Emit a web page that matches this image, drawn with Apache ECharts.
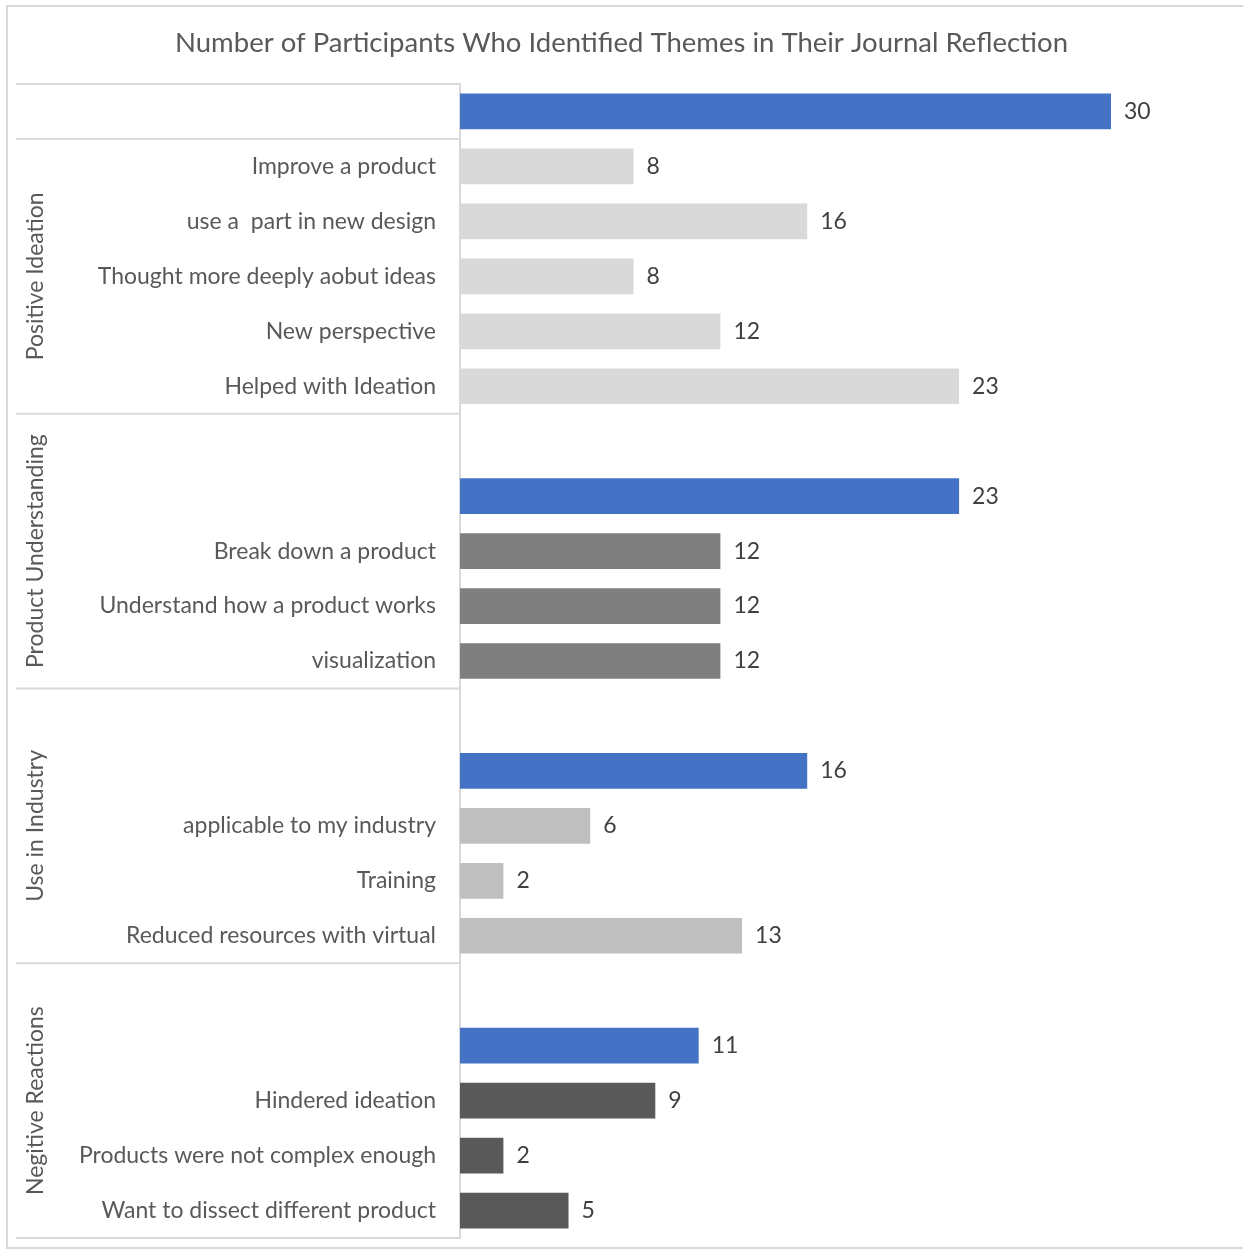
<!DOCTYPE html>
<html>
<head>
<meta charset="utf-8">
<script src="https://cdn.jsdelivr.net/npm/echarts@6/dist/echarts.min.js"></script>
<style>
  html, body { margin: 0; padding: 0; background: #fff; }
  #main { width: 1243px; height: 1251px; }
</style>
</head>
<body>
<div id="main"></div>
<script>
// rows, top to bottom ('' = group total row / spacer)
var categories = [
  '',
  'Improve a product', 'use a  part in new design', 'Thought more deeply aobut ideas', 'New perspective', 'Helped with Ideation',
  '', '', 'Break down a product', 'Understand how a product works', 'visualization',
  '', '', 'applicable to my industry', 'Training', 'Reduced resources with virtual',
  '', '', 'Hindered ideation', 'Products were not complex enough', 'Want to dissect different product'
];
var values = [
  30,
  8, 16, 8, 12, 23,
  null, 23, 12, 12, 12,
  null, 16, 6, 2, 13,
  null, 11, 9, 2, 5
];
var groupNames = ['', 'Positive Ideation', 'Product Understanding', 'Use in Industry', 'Negitive Reactions'];
var groupOfRow = [0, 1,1,1,1,1, 2,2,2,2,2, 3,3,3,3,3, 4,4,4,4,4];

var groupColors = ['#4472C4', '#D9D9D9', '#7F7F7F', '#BFBFBF', '#595959'];
var totalColor = '#4472C4';
var font = 'Lato, "Open Sans", sans-serif';

var chart = echarts.init(document.getElementById('main'));

var barData = values.map(function (v, i) {
  var isTotal = categories[i] === '';
  return {
    value: v,
    itemStyle: { color: isTotal ? totalColor : groupColors[groupOfRow[i]] }
  };
});

chart.setOption({
  animation: false,
  title: {
    text: 'Number of Participants Who Identified Themes in Their Journal Reflection',
    left: 'center',
    top: 24,
    textStyle: { fontFamily: font, fontSize: 27.5, fontWeight: 'normal', color: '#595959' }
  },
  grid: { left: 460, right: 132, top: 84, bottom: 13 },
  xAxis: {
    type: 'value',
    min: 0,
    max: 30,
    show: false
  },
  yAxis: {
    type: 'category',
    inverse: true,
    data: categories,
    axisLine: { lineStyle: { color: '#D9D9D9', width: 2 } },
    axisTick: { show: false },
    axisLabel: { fontFamily: font, fontSize: 23, color: '#595959', margin: 24, interval: 0 }
  },
  series: [{
    type: 'bar',
    data: barData,
    barWidth: '65%',
    label: {
      show: true,
      position: 'right',
      distance: 13,
      fontFamily: font,
      fontSize: 23,
      color: '#404040'
    }
  }]
});

// group separators and rotated group names, placed from the category scale
var band = chart.convertToPixel({ yAxisIndex: 0 }, 1) - chart.convertToPixel({ yAxisIndex: 0 }, 0);
var axisX = chart.convertToPixel({ xAxisIndex: 0 }, 0);
var graphics = [{
  type: 'rect',
  shape: { x: 7, y: 6, width: 1240, height: 1242 },
  style: { fill: null, stroke: '#D9D9D9', lineWidth: 2 },
  silent: true
}];
var start = 0;
for (var i = 0; i <= groupOfRow.length; i++) {
  if (i === groupOfRow.length || groupOfRow[i] !== groupOfRow[start]) {
    var yTop = chart.convertToPixel({ yAxisIndex: 0 }, start) - band / 2;
    var yBot = chart.convertToPixel({ yAxisIndex: 0 }, i - 1) + band / 2;
    graphics.push({
      type: 'line',
      shape: { x1: 16, y1: yTop, x2: axisX, y2: yTop },
      style: { stroke: '#D9D9D9', lineWidth: 2 },
      silent: true
    });
    if (i === groupOfRow.length) {
      graphics.push({
        type: 'line',
        shape: { x1: 16, y1: yBot, x2: axisX, y2: yBot },
        style: { stroke: '#D9D9D9', lineWidth: 2 },
        silent: true
      });
    }
    var name = groupNames[groupOfRow[start]];
    if (name) {
      graphics.push({
        type: 'text',
        x: 36,
        y: (yTop + yBot) / 2,
        rotation: Math.PI / 2,
        style: {
          text: name,
          fontFamily: font,
          fontSize: 23,
          fill: '#595959',
          align: 'center',
          verticalAlign: 'middle'
        },
        silent: true
      });
    }
    start = i;
  }
}
chart.setOption({ graphic: graphics });

window.addEventListener('resize', function () {
  chart.resize();
});
</script>
</body>
</html>
